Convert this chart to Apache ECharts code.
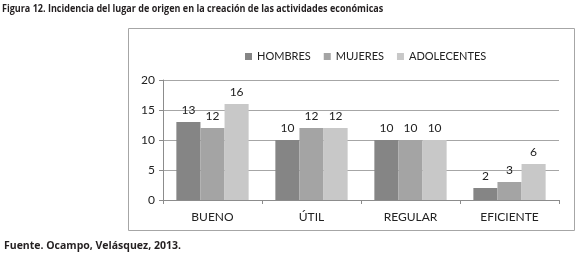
<!DOCTYPE html>
<html>
<head>
<meta charset="utf-8">
<script src="https://cdn.jsdelivr.net/npm/echarts@6/dist/echarts.min.js"></script>
<style>
  html, body { margin: 0; padding: 0; background: #fff; }
  #chart { width: 580px; height: 257px; }
</style>
</head>
<body>
<div id="chart"></div>
<script>
const categories = ["BUENO", "ÚTIL", "REGULAR", "EFICIENTE"];
const seriesNames = ["HOMBRES", "MUJERES", "ADOLECENTES"];
const hombres = [13, 10, 10, 2];
const mujeres = [12, 12, 10, 3];
const adolecentes = [16, 12, 10, 6];
const yTicks = [0, 5, 10, 15, 20];

const colors = ["#858585", "#a4a4a4", "#c8c8c8"];
const font = "Lato, 'Open Sans', sans-serif";

const chart = echarts.init(document.getElementById("chart"));

const barSeries = [hombres, mujeres, adolecentes].map((values, i) => ({
  name: seriesNames[i],
  type: "bar",
  data: values,
  barGap: "0%",
  barCategoryGap: "27%",
  itemStyle: { color: colors[i] },
  label: {
    show: true,
    position: "top",
    distance: 6,
    color: "#222",
    fontFamily: font,
    fontSize: 12
  }
}));

chart.setOption({
  backgroundColor: "#fff",
  animation: false,
  textStyle: { fontFamily: font },
  graphic: [
    {
      type: "rect",
      shape: { x: 128.5, y: 28.5, width: 446, height: 202 },
      style: { fill: "none", stroke: "#a6a6a6", lineWidth: 1 },
      z: -1
    },
    {
      type: "text",
      x: 2,
      y: 4,
      scaleX: 0.86,
      style: {
        text: "Figura 12. Incidencia del lugar de origen en la creación de las actividades económicas",
        font: "bold 10.5px 'Open Sans', sans-serif",
        fill: "#231f20"
      }
    },
    {
      type: "text",
      x: 4,
      y: 241,
      style: {
        text: "Fuente. Ocampo, Velásquez, 2013.",
        font: "bold 10.5px 'Open Sans', sans-serif",
        fill: "#231f20"
      }
    }
  ],
  legend: {
    data: seriesNames,
    top: 46,
    left: 240,
    itemWidth: 7,
    itemHeight: 7,
    itemGap: 13,
    icon: "rect",
    textStyle: { color: "#222", fontSize: 11, fontFamily: font }
  },
  grid: { left: 163, right: 21, top: 80, bottom: 57, containLabel: false },
  xAxis: {
    type: "category",
    data: categories,
    axisLine: { lineStyle: { color: "#8c8c8c" } },
    axisTick: { show: true, length: 4, lineStyle: { color: "#8c8c8c" } },
    axisLabel: { color: "#222", fontSize: 12, fontFamily: font, margin: 11 }
  },
  yAxis: {
    type: "value",
    min: yTicks[0],
    max: yTicks[yTicks.length - 1],
    interval: 5,
    axisLine: { show: true, lineStyle: { color: "#8c8c8c" } },
    axisTick: { show: true, length: 4, lineStyle: { color: "#8c8c8c" } },
    axisLabel: { color: "#222", fontSize: 12, fontFamily: font, margin: 8 },
    splitLine: { lineStyle: { color: "#a6a6a6" } }
  },
  series: barSeries
});
</script>
</body>
</html>
